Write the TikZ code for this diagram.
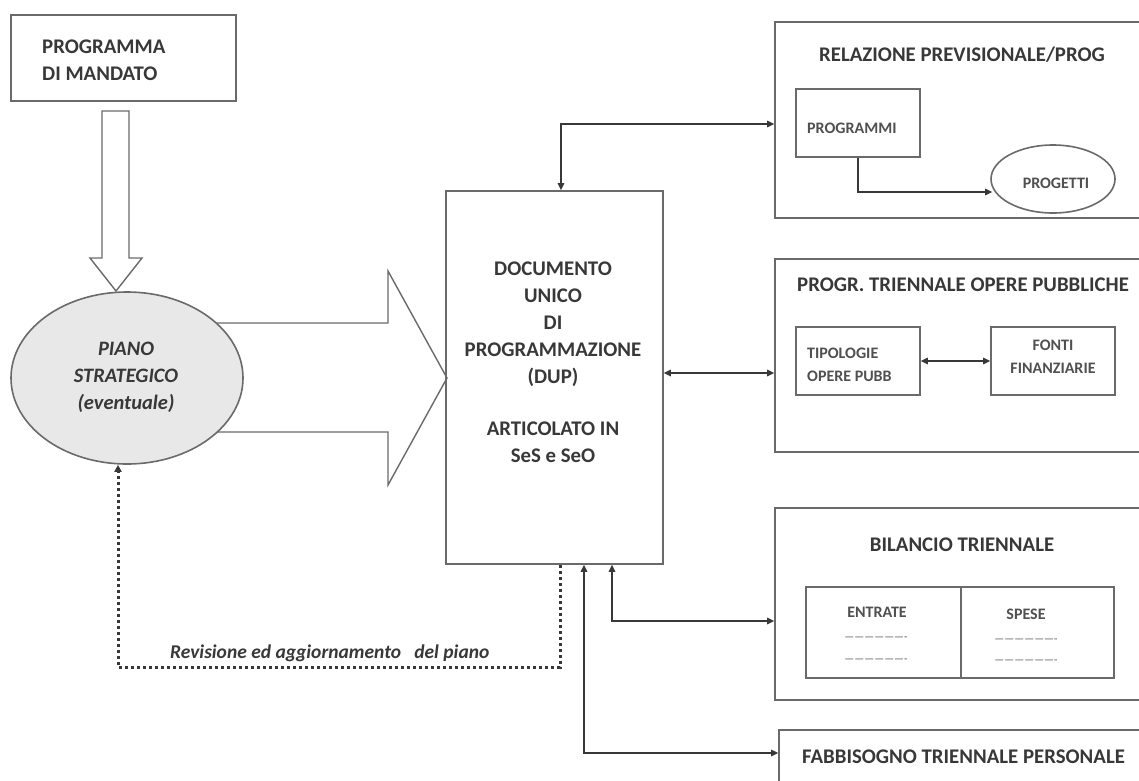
\documentclass[tikz,border=0pt]{standalone}
\usepackage{fontspec}
\setmainfont{Carlito}
\usetikzlibrary{arrows.meta,shapes.geometric,calc}
\definecolor{linegray}{HTML}{6A6A6A}
\definecolor{textgray}{HTML}{383838}
\definecolor{smallgray}{HTML}{505050}
\definecolor{ellgray}{HTML}{E8E8E8}
\begin{document}
\begin{tikzpicture}[x=1pt,y=-1pt,
  line/.style={draw=linegray,line width=1.6pt},
  box/.style={line,rectangle,inner sep=0pt},
  oval/.style={line,ellipse,inner sep=0pt},
  title/.style={font=\fontsize{20.8}{27}\selectfont\bfseries,text=textgray,inner sep=0pt},
  small/.style={font=\fontsize{16}{23}\selectfont\bfseries,text=smallgray,inner sep=0pt},
  tiny/.style={font=\fontsize{11}{12}\selectfont,text=smallgray,inner sep=0pt},
  conn/.style={draw=textgray,line width=1.4pt,{Triangle[length=7pt,width=6.5pt]}-{Triangle[length=7pt,width=6.5pt]}},
  conn1/.style={draw=textgray,line width=1.4pt,-{Triangle[length=7pt,width=6.5pt]}},
  dotline/.style={draw=textgray,line width=3pt,dash pattern=on 3pt off 3pt,-{Triangle[length=7pt,width=7pt]}},
  blockarrow/.style={line,fill=white,line width=1.4pt}
]
\useasboundingbox (0,0) rectangle (1139,780);
\fill[white] (0,0) rectangle (1139,780);

% Programma di mandato
\node[box,minimum width=225pt,minimum height=86pt] (mand) at (123.5,58) {};
\node[title,anchor=west,align=left] (mandt) at (42,60) {PROGRAMMA\\DI MANDATO};

% hollow down arrow
\draw[blockarrow] (102,111) -- (129,111) -- (129,258) -- (142,258) -- (116,291) -- (90,258) -- (102,258) -- cycle;

% big right hollow arrow (behind ellipse)
\draw[blockarrow] (180,323) -- (388,323) -- (388,271) -- (447,378) -- (388,485) -- (388,432) -- (180,432);

% Piano strategico
\node[oval,fill=ellgray,minimum width=232pt,minimum height=172pt] (piano) at (127,378) {};
\node[title,font=\fontsize{20.5}{27}\selectfont\bfseries\itshape,align=center] (pianot) at (126,377) {PIANO\\STRATEGICO\\(eventuale)};

% DUP
\node[box,minimum width=217pt,minimum height=373pt] (dup) at (554.5,377.5) {};
\node[title,align=center] (dupt) at (553,362) {DOCUMENTO\\UNICO\\DI\\PROGRAMMAZIONE\\(DUP)\\[25pt]ARTICOLATO IN\\SeS e SeO};

% Relazione previsionale
\node[box,minimum width=370pt,minimum height=196pt] (rel) at (960,120) {};
\node[title] (relt) at (962,55) {RELAZIONE PREVISIONALE/PROG};
\node[box,minimum width=124pt,minimum height=68pt] (prog) at (858,123) {};
\node[small,anchor=west] (progt) at (807,128) {PROGRAMMI};
\node[oval,minimum width=124pt,minimum height=68pt] (proj) at (1053,179) {};
\node[small] (projt) at (1056,183) {PROGETTI};

% Progr. triennale opere pubbliche
\node[box,minimum width=370pt,minimum height=193pt] (ptop) at (960,355.5) {};
\node[title,anchor=west] (ptopt) at (797,285) {PROGR. TRIENNALE OPERE PUBBLICHE};
\node[box,minimum width=124pt,minimum height=68pt] (tipo) at (858,361) {};
\node[small,anchor=west,align=left] (tipot) at (807,365) {TIPOLOGIE\\OPERE PUBB};
\node[box,minimum width=124pt,minimum height=68pt] (fonti) at (1053,361) {};
\node[small,align=center] (fontit) at (1053,357) {FONTI\\FINANZIARIE};

% Bilancio triennale
\node[box,minimum width=370pt,minimum height=192pt] (bil) at (960,604) {};
\node[title] (bilt) at (962,545) {BILANCIO TRIENNALE};
\node[box,minimum width=155pt,minimum height=91pt] (entr) at (883.5,632.5) {};
\node[box,minimum width=153pt,minimum height=91pt] (spese) at (1037.5,632.5) {};
\node[small] (entrt) at (877,612) {ENTRATE};
\node[tiny] (entrd1) at (876,639) {-------------------};
\node[tiny] (entrd2) at (876,661) {-------------------};
\node[small] (speset) at (1026,614) {SPESE};
\node[tiny] (spesed1) at (1026,641) {-------------------};
\node[tiny] (spesed2) at (1026,662) {-------------------};

% Fabbisogno
\node[box,minimum width=366pt,minimum height=100pt] (fab) at (962,780) {};
\node[title,anchor=west] (fabt) at (802,757) {FABBISOGNO TRIENNALE PERSONALE};

% connectors
\draw[conn] ([xshift=6.5pt]dup.north) |- ([yshift=-4pt]rel.west);
\draw[conn] ([yshift=4.5pt]dup.east) -- ([yshift=4.5pt]dup.east -| ptop.west);
\draw[conn] ([xshift=57.5pt]dup.south) |- ([yshift=-17pt]bil.west);
\draw[conn] ([xshift=29.5pt]dup.south) |- ([yshift=27pt]fab.west);
\draw[conn1] (prog.south) |- ([yshift=-13pt,xshift=2pt]proj.west);
\draw[conn] (tipo.east) -- (fonti.west);

\coordinate (revy) at (0,667);
\draw[dotline] ([xshift=5.5pt]dup.south) -- ([xshift=5.5pt]dup.south |- revy) -| ([xshift=-9pt]piano.south);
\node[font=\fontsize{19.5}{22}\selectfont\bfseries\itshape,text=textgray,anchor=south west,inner sep=0pt] (revt) at (170,662) {Revisione ed aggiornamento \ \ del piano};
\end{tikzpicture}
\end{document}
